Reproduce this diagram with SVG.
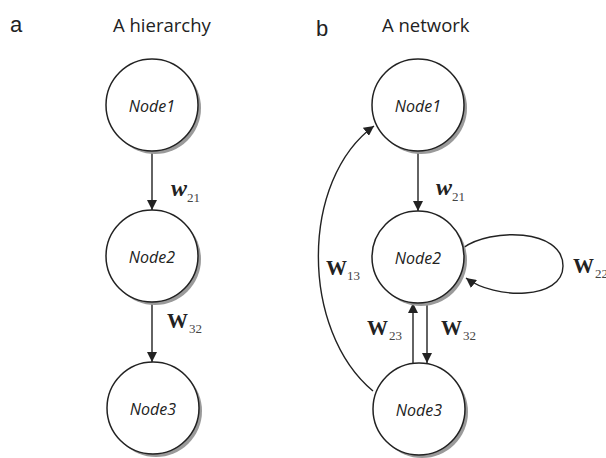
<svg xmlns="http://www.w3.org/2000/svg" width="606" height="458" viewBox="0 0 606 458">
  <style>
    .panel { font-family: "Liberation Sans", Arial, sans-serif; font-size: 22px; fill: #222; }
    .title { font-family: "Open Sans", "Liberation Sans", sans-serif; font-size: 18.5px; fill: #222; }
    .shadow { fill: #9a9a9a; }
    .node { fill: #fff; stroke: #222; stroke-width: 1.5; }
    .nlabel { font-family: "Open Sans", "Liberation Sans", sans-serif; font-style: italic; font-size: 16px; fill: #222; text-anchor: middle; }
    .edge { fill: none; stroke: #222; stroke-width: 1.4; }
    .wt { font-family: "Liberation Serif", "Times New Roman", serif; font-weight: bold; font-size: 21px; fill: #222; }
    .wi { font-style: italic; font-size: 24px; }
    .sub { font-family: "Liberation Serif", "Times New Roman", serif; font-size: 13px; fill: #444; }
  </style>
  <defs>
    <marker id="arrow" viewBox="0 0 10 10" refX="10" refY="5" markerWidth="10" markerHeight="10" markerUnits="userSpaceOnUse" orient="auto">
      <path d="M0,0 L10,5 L0,10 Z" fill="#222"/>
    </marker>
  </defs>

  <rect width="606" height="458" fill="#fff"/>

  <!-- panel headings -->
  <text class="panel" x="10" y="32">a</text>
  <text class="title" x="113" y="32">A hierarchy</text>
  <text class="panel" x="316" y="36">b</text>
  <text class="title" x="382" y="32">A network</text>

  <!-- connectors -->
  <g id="connectors">
    <line class="edge" x1="152" y1="151" x2="152" y2="210" marker-end="url(#arrow)"/>
    <line class="edge" x1="152" y1="302" x2="152" y2="362" marker-end="url(#arrow)"/>
    <line class="edge" x1="418" y1="151" x2="418" y2="211" marker-end="url(#arrow)"/>
    <line class="edge" x1="413" y1="364" x2="413" y2="303" marker-end="url(#arrow)"/>
    <line class="edge" x1="427" y1="303" x2="427" y2="363" marker-end="url(#arrow)"/>
    <path class="edge" d="M373,391 C300,330 300,180 374,126" marker-end="url(#arrow)"/>
    <path class="edge" d="M463,248 C490,228 563,228 563,266 C563,300 495,300 466,278" marker-end="url(#arrow)"/>

    <text class="wt wi" x="171" y="196">w</text><text class="sub" x="187" y="202">21</text>
    <text class="wt" x="167" y="328">W</text><text class="sub" x="189" y="333">32</text>
    <text class="wt wi" x="436" y="195">w</text><text class="sub" x="452" y="201">21</text>
    <text class="wt" x="326" y="275">W</text><text class="sub" x="347" y="280">13</text>
    <text class="wt" x="573" y="273">W</text><text class="sub" x="595" y="278">22</text>
    <text class="wt" x="367" y="335">W</text><text class="sub" x="389" y="340">23</text>
    <text class="wt" x="441" y="335">W</text><text class="sub" x="463" y="340">32</text>
  </g>

  <!-- hierarchy nodes -->
  <g id="a-node1">
    <circle class="shadow" cx="155" cy="108" r="46"/>
    <circle class="node" cx="152" cy="105" r="46"/>
    <text class="nlabel" x="152" y="112">Node1</text>
  </g>
  <g id="a-node2">
    <circle class="shadow" cx="155" cy="259" r="46"/>
    <circle class="node" cx="152" cy="256" r="46"/>
    <text class="nlabel" x="152" y="263">Node2</text>
  </g>
  <g id="a-node3">
    <circle class="shadow" cx="156" cy="411" r="46"/>
    <circle class="node" cx="153" cy="408" r="46"/>
    <text class="nlabel" x="153" y="415">Node3</text>
  </g>

  <!-- network nodes -->
  <g id="b-node1">
    <circle class="shadow" cx="421" cy="108" r="46"/>
    <circle class="node" cx="418" cy="105" r="46"/>
    <text class="nlabel" x="418" y="112">Node1</text>
  </g>
  <g id="b-node2">
    <circle class="shadow" cx="421" cy="260" r="46"/>
    <circle class="node" cx="418" cy="257" r="46"/>
    <text class="nlabel" x="418" y="264">Node2</text>
  </g>
  <g id="b-node3">
    <circle class="shadow" cx="422" cy="412" r="46"/>
    <circle class="node" cx="419" cy="409" r="46"/>
    <text class="nlabel" x="419" y="416">Node3</text>
  </g>
</svg>
